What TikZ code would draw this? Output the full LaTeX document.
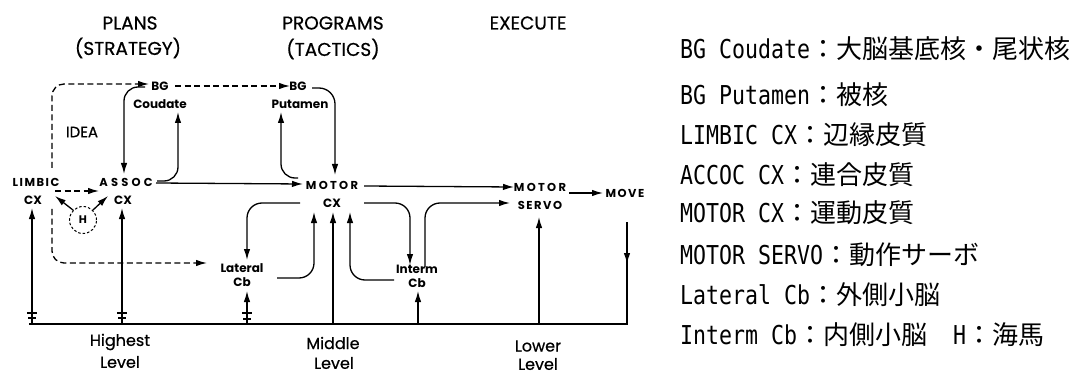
\documentclass[tikz,border=0pt]{standalone}
\usepackage{fontspec}
\usetikzlibrary{arrows.meta}
\newfontfamily\dgfont{Poppins}
\newfontfamily\hdfont{Poppins}[FakeBold=0.6]
\newfontfamily\lgmono{DejaVu Sans Mono}[FakeStretch=0.83]
\newfontfamily\jpfont{Noto Sans CJK JP}
\tikzset{
  hdr/.style={font=\hdfont\fontsize{18.5}{20}\selectfont, inner sep=0pt},
  lvl/.style={font=\hdfont\fontsize{16}{18}\selectfont, inner sep=0pt},
  lbl/.style={font=\dgfont\bfseries\fontsize{12}{13}\selectfont, inner sep=0pt},
  spA/.style={font=\dgfont\bfseries\fontsize{11.5}{12}\selectfont\addfontfeatures{LetterSpace=13}, inner sep=0pt},
  spB/.style={font=\dgfont\bfseries\fontsize{11.5}{12}\selectfont\addfontfeatures{LetterSpace=28}, inner sep=0pt},
  spC/.style={font=\dgfont\bfseries\fontsize{11.5}{12}\selectfont\addfontfeatures{LetterSpace=20}, inner sep=0pt},
  ln/.style={line width=1.3pt},
  arr/.style={ln, -{Latex[length=11pt,width=6.5pt]}},
  dsh/.style={arr, dash pattern=on 6pt off 3.5pt},
  tick/.style={line width=1.2pt},
  leg/.style={anchor=west, inner sep=0pt, font=\fontsize{26}{28}\selectfont},
}
\begin{document}
\begin{tikzpicture}[x=1pt,y=1pt]
\useasboundingbox (0,0) rectangle (1081,-374);
\fill[white] (0,0) rectangle (1081,-374);

% headers
\node[hdr] (plans) at (130,-23) {PLANS};
\node[hdr] (strat) at (128,-48) {(STRATEGY)};
\node[hdr] (progs) at (333,-23) {PROGRAMS};
\node[hdr] (tact) at (333,-49) {(TACTICS)};
\node[hdr] (exec) at (528,-23) {EXECUTE};

% diagram labels
\node[lbl] (bgc) at (160,-86) {BG};
\node[lbl] (coud) at (160,-104) {Coudate};
\node[lbl] (bgp) at (298,-86) {BG};
\node[lbl] (put) at (300,-104) {Putamen};
\node[spA] (limb) at (36,-182) {LIMBIC};
\node[lbl] (limcx) at (33,-200) {CX};
\node[spB] (assoc) at (126,-182) {ASSOC};
\node[lbl] (ascx) at (123,-200) {CX};
\node[hdr, font=\hdfont\fontsize{15}{16}\selectfont] (idea) at (82,-132) {IDEA};
\node[lbl, font=\dgfont\bfseries\fontsize{11}{12}\selectfont, draw, circle, line width=1pt, dash pattern=on 2.5pt off 2pt, minimum size=27pt] (hip) at (83,-220) {H};
\node[spC] (motor) at (332,-185) {MOTOR};
\node[lbl] (mcx) at (332,-203) {CX};
\node[spC] (msv) at (540,-187) {MOTOR};
\node[spA] (servo) at (540,-205) {SERVO};
\node[spA] (move) at (625,-193) {MOVE};
\node[lbl] (lat) at (242,-268) {Lateral};
\node[lbl] (latcb) at (242,-282) {Cb};
\node[lbl] (intm) at (417,-269) {Interm};
\node[lbl] (intcb) at (417,-283) {Cb};
\node[lvl] (hi) at (120,-342) {Highest};
\node[lvl] (lv1) at (120,-362) {Level};
\node[lvl] (mid) at (333,-343) {Middle};
\node[lvl] (lv2) at (334,-363) {Level};
\node[lvl] (low) at (538,-346) {Lower};
\node[lvl] (lv3) at (538,-364) {Level};

% coordinates
\coordinate (b0) at (29,-324);
\coordinate (b1) at (32,-324);
\coordinate (b2) at (122,-324);
\coordinate (b3) at (247,-324);
\coordinate (b4) at (333,-324);
\coordinate (b5) at (418,-324);
\coordinate (b6) at (539,-324);
\coordinate (b7) at (627,-324);
\coordinate (mv0) at (627,-222);
\coordinate (mv1) at (627,-264);

% dashed (idea) paths
\draw[dsh, rounded corners=12pt] (52,-168) |- (149,-84);
\draw[dsh] (175,-86) -- (290,-86);
\draw[dsh] (55,-191) -- (99,-191);
\draw[dsh, rounded corners=12pt] (52,-209) |- (207,-263);

% hippocampus arrows
\draw[arr] (hip.north west) -- (55,-196);
\draw[arr] (hip.north east) -- (108,-196);

% BG Coudate loop
\draw[arr, rounded corners=14pt] (145,-87) -| (124,-174);
\draw[arr, rounded corners=14pt] (157,-181) -| (178,-112);
% ASSOC -> MOTOR
\draw[arr] (156,-183) -- (303,-184);
% BG Putamen loop
\draw[arr, rounded corners=16pt] (312,-88) -| (335,-175);
\draw[arr, rounded corners=14pt] (298,-178) -| (281,-112);
% MOTOR -> MOTOR SERVO
\draw[arr] (364,-186) -- (514,-187);
% SERVO -> MOVE
\draw[arr] (569,-193) -- (603,-193);

% MOTOR CX lower loops
\draw[arr, rounded corners=15pt] (300,-203) -| (247,-260);
\draw[arr, rounded corners=15pt] (277,-278) -| (314,-212);
\draw[arr] (b4) -- (333,-212);
\draw[arr, rounded corners=15pt] (394,-280) -| (350,-212);
\draw[arr, rounded corners=15pt] (364,-203) -| (410,-265);
\draw[arr, rounded corners=15pt] (425,-267) |- (510,-203);
\draw[arr] (b5) -- (418,-291);
\draw[arr] (b6) -- (539,-217);

% feedback from MOVE along bottom
\draw[arr] (mv0) -- (mv1);
\draw[ln] (627,-255) -- (b7) -- (b0);

% rising paths with synapse ticks
\draw[arr] (b1) -- (32,-208);
\draw[tick] (27,-313) -- (37,-313) (28,-318) -- (36,-318);
\draw[arr] (b2) -- (122,-208);
\draw[tick] (117,-313) -- (127,-313) (118,-318) -- (126,-318);
\draw[arr] (b3) -- (247,-291);
\draw[tick] (242,-313) -- (252,-313) (243,-319) -- (251,-319);

% legend
\node[leg] (lg1) at (680,-49) {{\lgmono BG Coudate}{\jpfont ：大脳基底核・尾状核}};
\node[leg] (lg2) at (680,-95) {{\lgmono BG Putamen}{\jpfont ：被核}};
\node[leg] (lg3) at (680,-135) {{\lgmono LIMBIC CX}{\jpfont ：辺縁皮質}};
\node[leg] (lg4) at (680,-175) {{\lgmono ACCOC CX}{\jpfont ：連合皮質}};
\node[leg] (lg5) at (680,-213) {{\lgmono MOTOR CX}{\jpfont ：運動皮質}};
\node[leg] (lg6) at (680,-255) {{\lgmono MOTOR SERVO}{\jpfont ：動作サーボ}};
\node[leg] (lg7) at (680,-295) {{\lgmono Lateral Cb}{\jpfont ：外側小脳}};
\node[leg] (lg8) at (680,-335) {{\lgmono Interm Cb}{\jpfont ：内側小脳　}{\lgmono H}{\jpfont ：海馬}};
\end{tikzpicture}
\end{document}
